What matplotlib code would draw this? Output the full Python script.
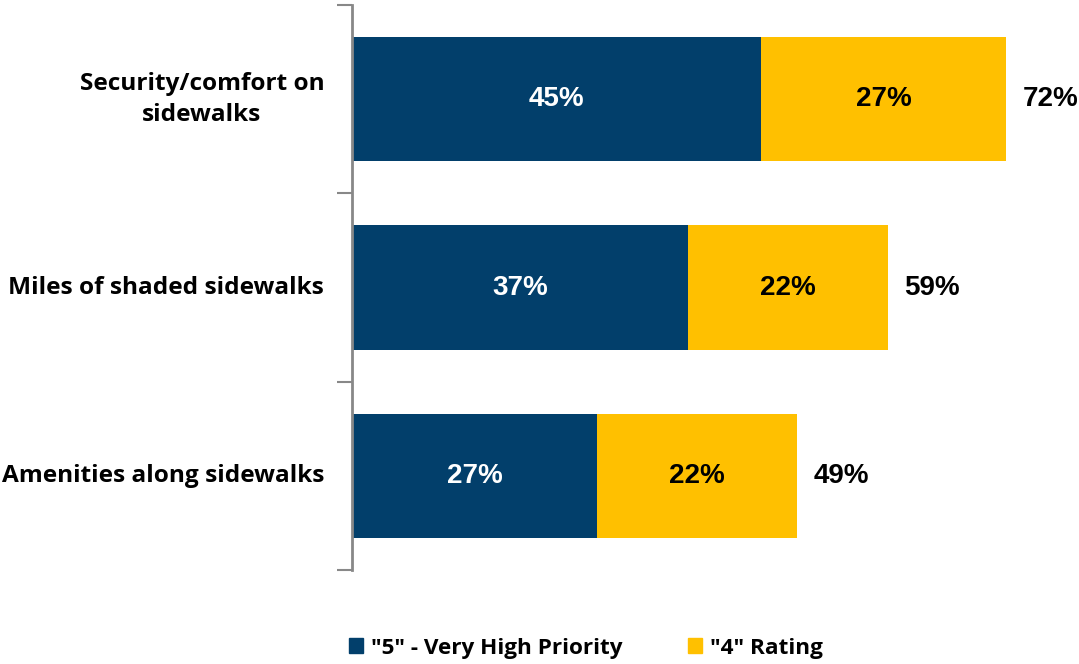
import matplotlib.pyplot as plt
from matplotlib.patches import Patch

categories = ["Security/comfort on\nsidewalks", "Miles of shaded sidewalks", "Amenities along sidewalks"]
very_high = [45, 37, 27]
rating_4 = [27, 22, 22]
totals = [72, 59, 49]

navy = "#023F6B"
gold = "#FFC000"

fig = plt.figure(figsize=(10.79, 6.64), dpi=100)
ax = fig.add_axes([352 / 1079, 1 - 570 / 664, 1 - 352 / 1079, 565 / 664])

ypos = list(range(len(categories)))
ax.barh(ypos, very_high, height=0.66, color=navy, label='"5" - Very High Priority')
ax.barh(ypos, rating_4, left=very_high, height=0.66, color=gold, label='"4" Rating')

for y, a, b, t in zip(ypos, very_high, rating_4, totals):
    ax.text(a / 2, y, f"{a}%", ha="center", va="center", color="white",
            fontsize=20, fontweight="bold", family="Liberation Sans")
    ax.text(a + b / 2, y, f"{b}%", ha="center", va="center", color="black",
            fontsize=20, fontweight="bold", family="Liberation Sans")
    ax.text(t + 1.8, y, f"{t}%", ha="left", va="center", color="black",
            fontsize=20, fontweight="bold", family="Liberation Sans")

ax.set_xlim(0, 80)
ax.set_ylim(2.5, -0.5)
ax.set_xticks([])

# labels at the bar centres, short ticks at the band boundaries
ax.set_yticks(ypos)
ax.set_yticklabels(categories, fontsize=17.6, fontweight="bold", family="Open Sans",
                   multialignment="center", linespacing=1.4, va="center")
ax.tick_params(axis="y", which="major", length=0, pad=20)
ax.set_yticks([-0.5, 0.5, 1.5, 2.5], minor=True)
ax.tick_params(axis="y", which="minor", length=11, width=1.5, color="#888888")

for side in ["top", "right", "bottom"]:
    ax.spines[side].set_visible(False)
ax.spines["left"].set_color("#888888")
ax.spines["left"].set_linewidth(2)

handles = [Patch(color=navy, label='"5" - Very High Priority'),
           Patch(color=gold, label='"4" Rating')]
fig.legend(handles=handles, loc="center", bbox_to_anchor=(0.543, 0.024), ncol=2,
           frameon=False, handlelength=0.62, handleheight=0.62, handletextpad=0.36,
           columnspacing=2.9, prop={"family": "Open Sans", "weight": "bold", "size": 16.2})

fig.savefig("out.png", dpi=100)
